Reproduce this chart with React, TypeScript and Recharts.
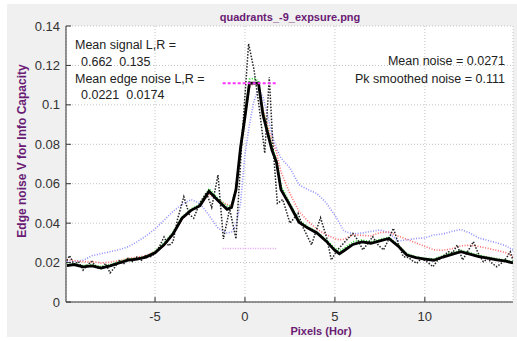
import React from "react";
import {
    LineChart,
    Line,
    XAxis,
    YAxis,
    CartesianGrid,
    Customized,
} from "recharts";

const smoothX = [
    -9.9, -9.5, -9, -8.5, -8, -7.5, -7, -6.5, -6, -5.5, -5, -4.5, -4, -3.5, -3, -2.5, -2, -1.5, -1, -0.75,
    -0.5, -0.25, 0, 0.25, 0.5, 0.75, 1, 1.25, 1.5, 1.75, 2, 2.5, 3, 3.5, 4, 4.5, 5, 5.25, 5.5, 6, 6.5, 7,
    7.5, 8, 8.5, 9, 9.5, 10, 10.5, 11, 11.5, 12, 12.5, 13, 13.5, 14, 14.5, 14.9,
];

// thick black: smoothed edge noise
const smoothed = [
    0.0185, 0.019, 0.0178, 0.0183, 0.0172, 0.0183, 0.0198, 0.0212, 0.0218, 0.0228, 0.025, 0.029, 0.0345, 0.0425,
    0.0465, 0.0488, 0.0562, 0.0515, 0.047, 0.048, 0.057, 0.078, 0.094, 0.111, 0.111, 0.111, 0.095, 0.086, 0.077,
    0.071, 0.057, 0.049, 0.0405, 0.0375, 0.035, 0.031, 0.0262, 0.0245, 0.026, 0.0292, 0.0305, 0.0298, 0.031,
    0.0322, 0.0285, 0.0238, 0.0225, 0.0218, 0.0212, 0.0228, 0.0242, 0.0255, 0.0243, 0.023, 0.0222, 0.0214,
    0.0207, 0.0198,
];

const green = [
    0.019, 0.0195, 0.0185, 0.019, 0.018, 0.019, 0.0205, 0.0218, 0.0222, 0.0232, 0.0258, 0.03, 0.0355, 0.0432,
    0.0472, 0.0495, 0.0575, 0.0525, 0.0485, 0.049, 0.058, 0.079, 0.096, 0.113, 0.1135, 0.112, 0.097, 0.088, 0.079,
    0.072, 0.059, 0.05, 0.0415, 0.0382, 0.0355, 0.0318, 0.0272, 0.026, 0.0272, 0.0305, 0.0315, 0.0305, 0.0318,
    0.0328, 0.0292, 0.0245, 0.023, 0.0222, 0.0218, 0.0235, 0.025, 0.0262, 0.025, 0.0238, 0.0228, 0.022, 0.0212,
    0.0204,
];

const red = [
    0.0215, 0.021, 0.0205, 0.0205, 0.0198, 0.0202, 0.021, 0.022, 0.0228, 0.0235, 0.0255, 0.0292, 0.0345, 0.042,
    0.0462, 0.049, 0.0545, 0.052, 0.0495, 0.049, 0.056, 0.076, 0.093, 0.109, 0.111, 0.11, 0.098, 0.09, 0.082,
    0.076, 0.066, 0.055, 0.046, 0.041, 0.037, 0.0342, 0.0322, 0.0315, 0.0318, 0.034, 0.0338, 0.0335, 0.0352,
    0.0355, 0.0335, 0.0318, 0.03, 0.0282, 0.0265, 0.0262, 0.027, 0.0285, 0.0288, 0.0282, 0.0272, 0.0262, 0.025,
    0.023,
];

const blue = [
    0.0205, 0.0205, 0.0212, 0.0235, 0.0245, 0.0255, 0.0265, 0.028, 0.0305, 0.0335, 0.037, 0.0415, 0.046, 0.0495,
    0.052, 0.05, 0.044, 0.0375, 0.035, 0.0355, 0.039, 0.05, 0.075, 0.09, 0.102, 0.108, 0.104, 0.095, 0.085, 0.078,
    0.073, 0.068, 0.0595, 0.057, 0.055, 0.0505, 0.044, 0.04, 0.036, 0.0345, 0.035, 0.0358, 0.0365, 0.0352,
    0.031, 0.0315, 0.0322, 0.0325, 0.034, 0.0345, 0.0358, 0.0368, 0.035, 0.0325, 0.0312, 0.03, 0.0285, 0.0264,
];

// dotted black: raw (unsmoothed) edge noise
const rawX = [
    -9.9, -9.75, -9.5, -9.25, -9, -8.75, -8.5, -8.25, -8, -7.75, -7.5, -7.25, -7, -6.75, -6.5, -6.25, -6, -5.75,
    -5.5, -5.25, -5, -4.75, -4.5, -4.25, -4, -3.75, -3.4, -3.1, -2.85, -2.5, -2.15, -1.85, -1.5, -1.2, -0.85,
    -0.5, -0.15, 0.2, 0.5, 0.8, 1.1, 1.35, 1.55, 1.8, 2.1, 2.5, 2.95, 3.25, 3.7, 4.2, 4.55, 4.8, 5.1, 5.3, 5.6,
    6, 6.3, 6.55, 6.85, 7.1, 7.4, 7.7, 8, 8.25, 8.55, 8.8, 9.1, 9.3, 9.55, 9.8, 10.1, 10.45, 10.7, 11, 11.3,
    11.55, 11.8, 12.1, 12.4, 12.7, 12.95, 13.25, 13.5, 13.75, 14, 14.3, 14.55, 14.75, 14.9,
];
const raw = [
    0.021, 0.0235, 0.019, 0.0205, 0.0162, 0.019, 0.0205, 0.0175, 0.017, 0.0195, 0.0148, 0.0175, 0.021, 0.0192,
    0.0222, 0.0205, 0.0228, 0.0212, 0.0238, 0.023, 0.0245, 0.0282, 0.033, 0.0285, 0.0305, 0.042, 0.0534, 0.0445,
    0.0425, 0.0505, 0.0555, 0.048, 0.0644, 0.032, 0.0472, 0.032, 0.085, 0.131, 0.118, 0.098, 0.0755, 0.114, 0.08,
    0.05, 0.052, 0.04, 0.045, 0.0374, 0.029, 0.0428, 0.0323, 0.0213, 0.026, 0.028, 0.031, 0.0348, 0.031, 0.0264,
    0.03, 0.0331, 0.029, 0.0264, 0.032, 0.0374, 0.029, 0.023, 0.0225, 0.021, 0.0196, 0.022, 0.0205, 0.0179, 0.021,
    0.023, 0.0255, 0.025, 0.0289, 0.0213, 0.026, 0.0306, 0.025, 0.0204, 0.022, 0.0195, 0.0179, 0.02, 0.0225,
    0.0255, 0.021,
];

const markerX = [-1.24, 1.76];
const pkSmoothedNoise = 0.111;
const meanNoise = 0.0271;
const meanSignal = [0.662, 0.135];
const meanEdgeNoise = [0.0221, 0.0174];

const xTicks = [-5, 0, 5, 10];
const yTicks = [0, 0.02, 0.04, 0.06, 0.08, 0.1, 0.12, 0.14];

const toPts = (xs: number[], ys: number[]) => xs.map((x, i) => ({ x, y: ys[i] }));

const FONT = '"Liberation Sans", Arial, sans-serif';
const PURPLE = "#6a1b74";
const AXIS = "#333";

const xDomain: [number, number] = [-9.95, 14.9];
const yDomain: [number, number] = [0, 0.14];

function Annotations() {
    const txt = { fontFamily: FONT, fontSize: 12.5, fill: "#222", whiteSpace: "pre" as const };
    return (
        <g>
            <text x={283} y={17} textAnchor="middle" style={{ fontFamily: FONT, fontSize: 11, fontWeight: 700, fill: PURPLE }}>
                quadrants_-9_expsure.png
            </text>
            <text x={314} y={331} textAnchor="middle" style={{ fontFamily: FONT, fontSize: 11, fontWeight: 700, fill: PURPLE }}>
                Pixels (Hor)
            </text>
            <text
                transform="translate(15,147) rotate(-90)"
                textAnchor="middle"
                dominantBaseline="central"
                style={{ fontFamily: FONT, fontSize: 12, fontWeight: 700, fill: PURPLE }}
            >
                Edge noise V for Info Capacity
            </text>
            <text x={68} y={45} style={txt}>Mean signal L,R =</text>
            <text x={74} y={62} style={txt}>{`${meanSignal[0]}  ${meanSignal[1]}`}</text>
            <text x={68} y={79} style={txt}>Mean edge noise L,R =</text>
            <text x={74} y={95} style={txt}>{`${meanEdgeNoise[0]}  ${meanEdgeNoise[1]}`}</text>
            <text x={498} y={61} textAnchor="end" style={txt}>{`Mean noise = ${meanNoise}`}</text>
            <text x={498} y={79} textAnchor="end" style={txt}>{`Pk smoothed noise = ${pkSmoothedNoise}`}</text>
        </g>
    );
}

export default function App() {
    const tickStyle = { fontSize: 13, fill: AXIS, fontFamily: FONT };
    const blank = () => "";
    const dotted = { dot: false, isAnimationActive: false, activeDot: false } as const;

    return (
        <div style={{ position: "absolute", left: 7, top: 4, width: 510, height: 333, background: "#f0f0f0" }}>
            <LineChart width={510} height={333} margin={{ top: 22, right: 4, left: 0, bottom: 0 }}>
                <CartesianGrid fill="#fff" stroke="#c4c4c4" strokeDasharray="1 2" />
                <XAxis
                    type="number"
                    dataKey="x"
                    domain={xDomain}
                    allowDataOverflow
                    ticks={xTicks}
                    height={35}
                    tickSize={-5}
                    tickMargin={15}
                    stroke={AXIS}
                    tick={tickStyle}
                />
                <XAxis
                    xAxisId="top"
                    orientation="top"
                    type="number"
                    dataKey="x"
                    domain={xDomain}
                    allowDataOverflow
                    ticks={xTicks}
                    height={0}
                    tickSize={-5}
                    tickFormatter={blank}
                    stroke={AXIS}
                />
                <YAxis
                    type="number"
                    domain={yDomain}
                    allowDataOverflow
                    ticks={yTicks}
                    width={59}
                    tickSize={-5}
                    tickMargin={11}
                    stroke={AXIS}
                    tick={tickStyle}
                    tickFormatter={(v: number) => String(+v.toFixed(2))}
                />
                <YAxis
                    yAxisId="right"
                    orientation="right"
                    type="number"
                    domain={yDomain}
                    allowDataOverflow
                    ticks={yTicks}
                    width={0}
                    tickSize={-5}
                    tickFormatter={blank}
                    stroke={AXIS}
                />
                <Line data={toPts(smoothX, blue)} dataKey="y" stroke="#8f8fff" strokeWidth={1.6} strokeDasharray="1 1.6" {...dotted} />
                <Line data={toPts(smoothX, red)} dataKey="y" stroke="#ff6b6b" strokeWidth={1.6} strokeDasharray="1 1.6" {...dotted} />
                <Line data={toPts(smoothX, green)} dataKey="y" stroke="#22d622" strokeWidth={1.6} strokeDasharray="1 1.6" {...dotted} />
                <Line data={toPts(rawX, raw)} dataKey="y" stroke="#222" strokeWidth={1.5} strokeDasharray="1.5 1.5" {...dotted} />
                <Line data={toPts(smoothX, smoothed)} dataKey="y" stroke="#000" strokeWidth={2.8} {...dotted} />
                <Line
                    data={markerX.map(x => ({ x, y: meanNoise }))}
                    dataKey="y"
                    stroke="#e4a0f0"
                    strokeWidth={1.5}
                    strokeDasharray="1 1.5"
                    {...dotted}
                />
                <Line
                    data={markerX.map(x => ({ x, y: pkSmoothedNoise }))}
                    dataKey="y"
                    stroke="#ff33ff"
                    strokeWidth={2}
                    strokeDasharray="3 2"
                    {...dotted}
                />
                <Customized component={<Annotations />} />
            </LineChart>
        </div>
    );
}
